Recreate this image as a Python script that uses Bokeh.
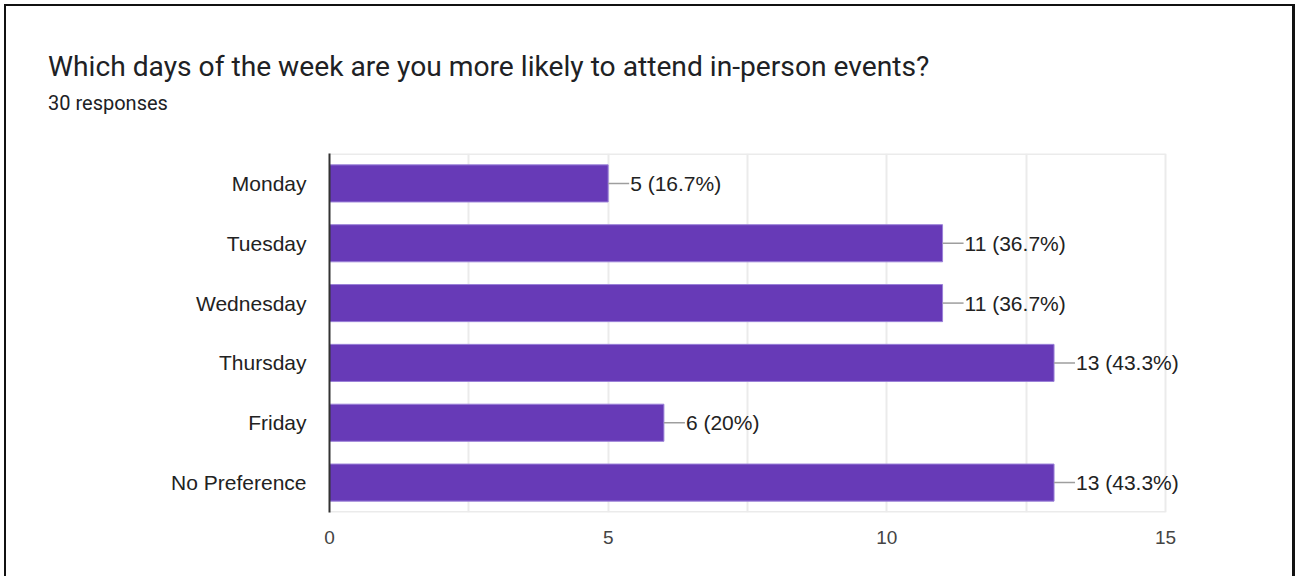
from bokeh.plotting import figure
from bokeh.layouts import column
from bokeh.models import FixedTicker, LabelSet, FactorRange, Range1d, ColumnDataSource, Div
from bokeh.embed import file_html
from bokeh.resources import INLINE
from bokeh.core.properties import value

title_text = "Which days of the week are you more likely to attend in-person events?"
subtitle_text = "30 responses"
total_responses = 30
days = ["Monday", "Tuesday", "Wednesday", "Thursday", "Friday", "No Preference"]
counts = [5, 11, 11, 13, 6, 13]
x_ticks = [0, 5, 10, 15]
grid_ticks = [0, 2.5, 5, 7.5, 10, 12.5, 15]
x_max = 15


def fmt(c):
    pct = f"{c / total_responses * 100:.1f}"
    if pct.endswith(".0"):
        pct = pct[:-2]
    return f"{c} ({pct}%)"


labels = [fmt(c) for c in counts]
src = ColumnDataSource(dict(day=days, count=counts, label=labels))

W, H = 1295, 576
HEAD = 130

head = Div(
    text=(
        f'<div style="font-family:Roboto;font-size:28.2px;line-height:33px;color:#202124;'
        f'margin:0;padding:50px 0 0 48px;white-space:nowrap;">{title_text}</div>'
        f'<div style="font-family:Roboto;font-size:20px;line-height:24px;color:#202124;'
        f'margin:0;padding:8px 0 0 48px;white-space:nowrap;">{subtitle_text}</div>'
    ),
    width=W, height=HEAD, margin=0,
)

px_per_unit = (1165 - 329) / x_max
right_border = 108
frame_w = W - 329 - right_border

p = figure(
    width=W, height=H - HEAD,
    y_range=FactorRange(*reversed(days)),
    x_range=Range1d(0, frame_w / px_per_unit),
    output_backend="svg", toolbar_location=None,
    min_border_left=329, min_border_right=right_border,
    min_border_top=153 - HEAD, min_border_bottom=64,
    margin=0,
)
p.outline_line_color = None
p.border_fill_alpha = 0

p.xgrid.ticker = FixedTicker(ticks=grid_ticks)
p.xgrid.grid_line_color = "#ebebeb"
p.xgrid.grid_line_width = 2
p.ygrid.visible = False

# top and bottom edges of the chart area (0..15)
p.segment(x0=[0, 0], x1=[x_max, x_max],
          y0=[(days[0], 0.5), (days[-1], -0.5)], y1=[(days[0], 0.5), (days[-1], -0.5)],
          line_color="#ebebeb", line_width=3)

p.hbar(y="day", left=0, right="count", height=0.62, source=src,
       fill_color="#673ab7", line_color="#9a80d8", line_width=1)
p.ray(x="count", y="day", length=21, length_units="screen", angle=0, source=src,
      line_color="#9e9e9e", line_width=1.5)
p.add_layout(LabelSet(x="count", y="day", text="label", x_offset=22, source=src,
                      text_baseline="middle", text_align="left",
                      text_font=value("Liberation Sans"), text_font_size="21px",
                      text_color="#222222"))

p.yaxis.axis_line_color = "#333333"
p.yaxis.axis_line_width = 2
p.yaxis.major_tick_line_color = None
p.yaxis.minor_tick_line_color = None
p.yaxis.major_label_standoff = 17
p.yaxis.major_label_text_font = "Liberation Sans"
p.yaxis.major_label_text_font_size = "21px"
p.yaxis.major_label_text_color = "#222222"

p.xaxis.ticker = FixedTicker(ticks=x_ticks)
p.xaxis.axis_line_color = None
p.xaxis.major_tick_line_color = None
p.xaxis.minor_tick_line_color = None
p.xaxis.major_label_standoff = 12
p.xaxis.major_label_text_font = "Liberation Sans"
p.xaxis.major_label_text_font_size = "19px"
p.xaxis.major_label_text_color = "#444444"

frame_shadow = ("inset 4px 4px 0 0 #ffffff, "
                "inset 6px 6px 0 0 #111111, "
                "inset -3px 0 0 0 #111111")
layout = column(head, p, spacing=0, margin=0,
                styles={"box-shadow": frame_shadow, "background": "#ffffff"})

open("out.html", "w").write(file_html(layout, INLINE))
